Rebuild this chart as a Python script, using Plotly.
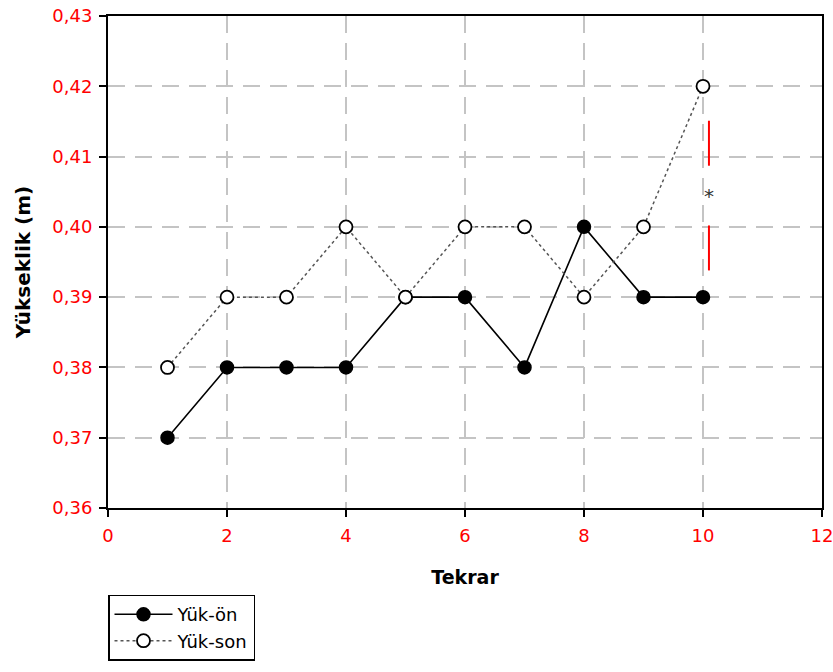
import plotly.graph_objects as go

# Repetition number and jump height (m)
tekrar = [1, 2, 3, 4, 5, 6, 7, 8, 9, 10]
yuk_on = [0.37, 0.38, 0.38, 0.38, 0.39, 0.39, 0.38, 0.40, 0.39, 0.39]
yuk_son = [0.38, 0.39, 0.39, 0.40, 0.39, 0.40, 0.40, 0.39, 0.40, 0.42]

# Significance marker at the last repetition
sig_x = 10.1
sig_upper = [0.4151, 0.4087]
sig_lower = [0.4002, 0.3938]
sig_star_y = 0.4044

x_ticks = [0, 2, 4, 6, 8, 10, 12]
y_ticks = [0.36, 0.37, 0.38, 0.39, 0.40, 0.41, 0.42, 0.43]
y_labels = [f"{v:.2f}".replace(".", ",") for v in y_ticks]

font_family = "DejaVu Sans, Liberation Sans, Arial, sans-serif"

fig = go.Figure()

fig.add_trace(go.Scatter(
    x=tekrar, y=yuk_on, name="Yük-ön", mode="lines+markers",
    line=dict(color="black", width=1.6),
    marker=dict(symbol="circle", size=13, color="black",
                line=dict(color="black", width=1.5)),
))
fig.add_trace(go.Scatter(
    x=tekrar, y=yuk_son, name="Yük-son", mode="lines+markers",
    line=dict(color="#555555", width=1.5, dash="dot"),
    marker=dict(symbol="circle", size=13, color="white",
                line=dict(color="black", width=1.8)),
))

for seg in (sig_upper, sig_lower):
    fig.add_trace(go.Scatter(
        x=[sig_x, sig_x], y=seg, mode="lines",
        line=dict(color="red", width=2), showlegend=False, hoverinfo="skip",
    ))

fig.add_annotation(
    x=sig_x, y=sig_star_y, text="*", showarrow=False,
    font=dict(family=font_family, size=20, color="#333333"),
)

axis_common = dict(
    showline=True, linecolor="black", linewidth=2, mirror=True,
    ticks="outside", ticklen=7, tickcolor="black", tickwidth=1.5,
    showgrid=True, gridcolor="#c4c4c4", gridwidth=2, griddash="17px,10px",
    zeroline=False, automargin=False, ticklabeloverflow="allow",
    tickfont=dict(family=font_family, size=18, color="red"),
)

fig.update_xaxes(
    range=[0, 12], tickvals=x_ticks, ticktext=[str(v) for v in x_ticks],
    ticklabelstandoff=3,
    title=dict(text="<b>Tekrar</b>", standoff=26,
               font=dict(family=font_family, size=19, color="black")),
    **axis_common,
)
fig.update_yaxes(
    range=[0.36, 0.43], tickvals=y_ticks, ticktext=y_labels,
    ticklabelstandoff=3,
    title=dict(text="<b>Yükseklik (m)</b>", standoff=16,
               font=dict(family=font_family, size=20, color="black")),
    **axis_common,
)

fig.update_layout(
    width=833, height=672,
    margin=dict(l=108, r=11, t=16, b=162),
    plot_bgcolor="white", paper_bgcolor="white",
    showlegend=True,
    legend=dict(
        x=0, y=-0.176, xanchor="left", yanchor="top",
        bordercolor="black", borderwidth=1.5, bgcolor="white",
        font=dict(family=font_family, size=18, color="black"),
        tracegroupgap=0, itemwidth=58,
    ),
)

fig.write_html("out.html")
